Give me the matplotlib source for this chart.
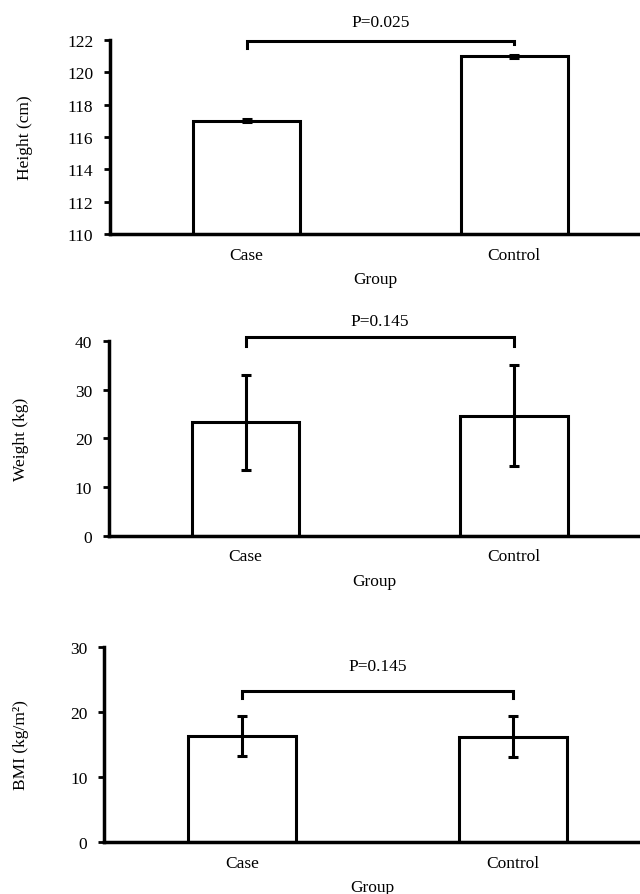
import matplotlib
matplotlib.use("Agg")
import matplotlib.pyplot as plt

plt.rcParams['font.family'] = ['Liberation Serif', 'DejaVu Serif']

groups = ["Case", "Control"]

height_mean = [117.0, 121.0]
height_err = [0.1, 0.1]

weight_mean = [23.3, 24.7]
weight_err = [9.8, 10.3]

bmi_mean = [16.3, 16.2]
bmi_err = [3.1, 3.2]

p_labels = ["P=0.025", "P=0.145", "P=0.145"]

FS = 12.5


def draw_panel(ax, means, errs, ylabel, ylim, yticks, bracket, p_text, p_y, label_x):
    x = [0, 1]
    ax.bar(x, means, 0.40, color='white', edgecolor='black', linewidth=2.2, zorder=2)
    ax.errorbar(x, means, yerr=errs, fmt='none', ecolor='black', elinewidth=2.2,
                capsize=3.5, capthick=2.2, zorder=3)

    # significance bracket
    top, left_leg, right_leg = bracket
    ax.plot([0, 0, 1, 1], [left_leg, top, top, right_leg], color='black',
            linewidth=2.2, clip_on=False, zorder=4, solid_joinstyle='miter')
    ax.text(0.5, p_y, p_text, ha='center', va='center', fontsize=FS, clip_on=False)

    ax.set_xlim(-0.51, 1.47)
    ax.set_ylim(*ylim)
    ax.set_yticks(yticks)
    ax.set_xticks(x)
    ax.set_xticklabels(groups, fontsize=FS)
    ax.tick_params(axis='x', length=0, pad=9)
    ax.tick_params(axis='y', length=4, width=2, labelsize=FS, pad=8)
    ax.spines['top'].set_visible(False)
    ax.spines['right'].set_visible(False)
    ax.spines['left'].set_linewidth(2.5)
    ax.spines['bottom'].set_linewidth(2.5)
    ax.set_xlabel("Group", fontsize=FS, labelpad=6)
    ax.set_ylabel(ylabel, fontsize=FS)
    ax.yaxis.set_label_coords(label_x, 0.5)


fig = plt.figure(figsize=(6.4, 8.95), dpi=100)

ax1 = fig.add_axes([0.172, 0.7374, 0.828, 0.2168])
draw_panel(ax1, height_mean, height_err, "Height (cm)", (110, 122), range(110, 123, 2),
           (121.95, 121.5, 121.75), p_labels[0], 123.1, -0.145)

ax2 = fig.add_axes([0.170, 0.4000, 0.830, 0.2179])
draw_panel(ax2, weight_mean, weight_err, "Weight (kg)", (0, 40), range(0, 41, 10),
           (40.8, 39.0, 39.0), p_labels[1], 44.0, -0.15)

ax3 = fig.add_axes([0.1625, 0.0581, 0.8375, 0.2179])
draw_panel(ax3, bmi_mean, bmi_err, "BMI (kg/m²)", (0, 30), range(0, 31, 10),
           (23.2, 22.2, 22.2), p_labels[2], 27.0, -0.14)

fig.savefig("out.png", dpi=100)
